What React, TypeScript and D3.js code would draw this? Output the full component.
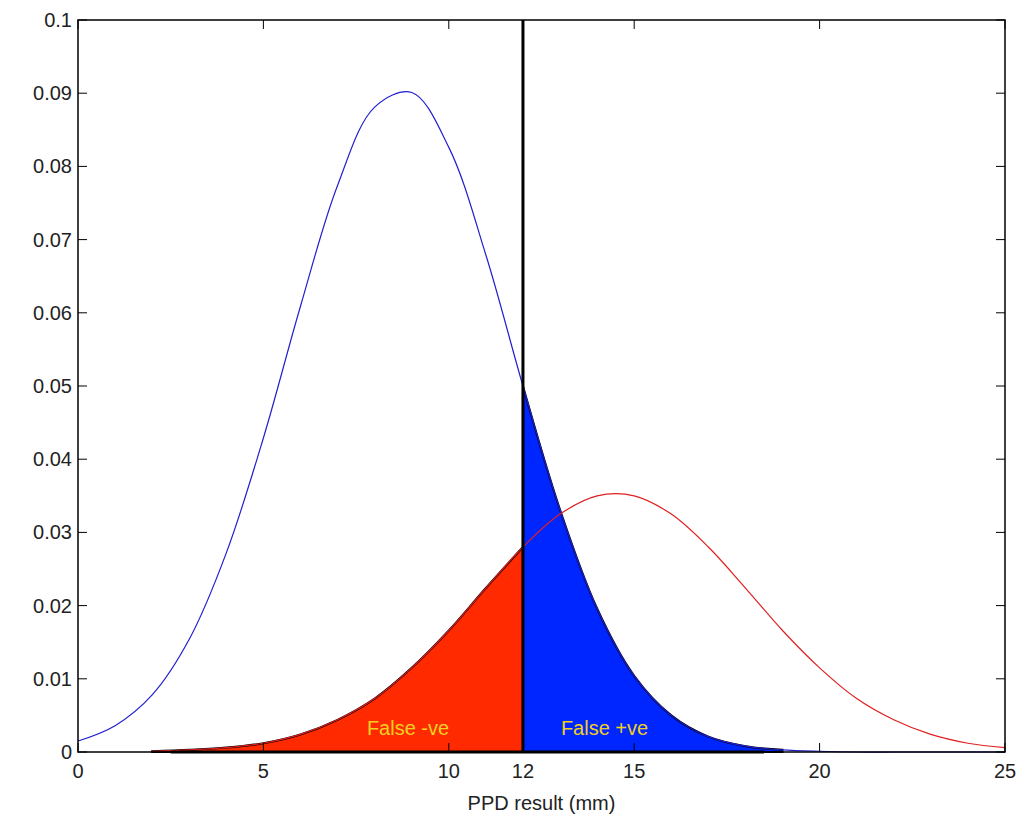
import React from "react";
import * as d3 from "d3";

const xs = [0,1,2,3,4,5,6,7,8,9,10,11,12,13,14,15,16,17,18,19,20,21,22,23,24,25];
const blueVals = [0.0015,0.0036,0.0078,0.0154,0.0272,0.0429,0.0609,0.0774,0.0881,0.0901,0.0826,0.0679,0.0500,0.0331,0.0196,0.0104,0.0050,0.0021,0.0008,0.0003,0.0001,0,0,0,0,0];
const redVals = [0,0,0.0001,0.0003,0.0006,0.0012,0.0024,0.0044,0.0073,0.0115,0.0166,0.0224,0.0280,0.0325,0.0350,0.0350,0.0325,0.0280,0.0224,0.0166,0.0115,0.0073,0.0044,0.0024,0.0012,0.0006];
const xTicks = [0,5,10,12,15,20,25];
const yTicks = [0,0.01,0.02,0.03,0.04,0.05,0.06,0.07,0.08,0.09,0.1];
const threshold = 12;

export default function App() {
  const L = 78, R = 1005, T = 20, B = 752;
  const x = d3.scaleLinear().domain([0, 25]).range([L, R]);
  const y = d3.scaleLinear().domain([0, 0.1]).range([B, T]);
  const blue = xs.map((v, i) => [v, blueVals[i]] as [number, number]);
  const red = xs.map((v, i) => [v, redVals[i]] as [number, number]);
  const curve = d3.curveCatmullRom.alpha(0.5);
  const line = d3.line<[number, number]>().x(d => x(d[0])).y(d => y(d[1])).curve(curve);
  const area = d3.area<[number, number]>().x(d => x(d[0])).y0(y(0)).y1(d => y(d[1])).curve(curve);
  const redFill = red.filter(d => d[0] >= 2 && d[0] <= threshold);
  const blueFill = blue.filter(d => d[0] >= threshold && d[0] <= 19);
  const font = "Liberation Sans, Arial, sans-serif";
  const fs = 20;
  return (
    <svg width={1021} height={829} style={{ position: "absolute", left: 0, top: 0, background: "#fff" }} fontFamily={font}>
      <rect x={L} y={T} width={R - L} height={B - T} fill="#fff" />
      <path d={area(redFill)!} fill="#ff2a00" stroke="#000" strokeWidth={2} />
      <path d={area(blueFill)!} fill="#0026ff" stroke="#000" strokeWidth={2} />
      <path d={line(blue)!} fill="none" stroke="#2020d0" strokeWidth={1.2} />
      <path d={line(red.filter(d => d[0] >= 2))!} fill="none" stroke="#e02020" strokeWidth={1.2} />
      <line x1={x(2.5)} x2={x(18.5)} y1={y(0)} y2={y(0)} stroke="#000" strokeWidth={3} />
      <line x1={x(threshold)} x2={x(threshold)} y1={y(0)} y2={y(0.1)} stroke="#000" strokeWidth={3} />
      <text x={x(8.9)} y={y(0.0023)} fill="#f0d020" fontSize={fs} textAnchor="middle">False -ve</text>
      <text x={x(14.2)} y={y(0.0023)} fill="#f0d020" fontSize={fs} textAnchor="middle">False +ve</text>
      <rect x={L} y={T} width={R - L} height={B - T} fill="none" stroke="#000" strokeWidth={1.5} />
      {xTicks.map(t => (
        <g key={"x" + t}>
          <line x1={x(t)} x2={x(t)} y1={B} y2={B - 9} stroke="#000" />
          <line x1={x(t)} x2={x(t)} y1={T} y2={T + 9} stroke="#000" />
          <text x={x(t)} y={B + 26} fontSize={fs} fill="#222" textAnchor="middle">{t}</text>
        </g>
      ))}
      {yTicks.map(t => (
        <g key={"y" + t}>
          <line x1={L} x2={L + 9} y1={y(t)} y2={y(t)} stroke="#000" />
          <line x1={R} x2={R - 9} y1={y(t)} y2={y(t)} stroke="#000" />
          <text x={L - 6} y={y(t) + 7} fontSize={fs} fill="#222" textAnchor="end">{String(+t.toFixed(2))}</text>
        </g>
      ))}
      <text x={(L + R) / 2} y={810} fontSize={fs} fill="#222" textAnchor="middle">PPD result (mm)</text>
    </svg>
  );
}
